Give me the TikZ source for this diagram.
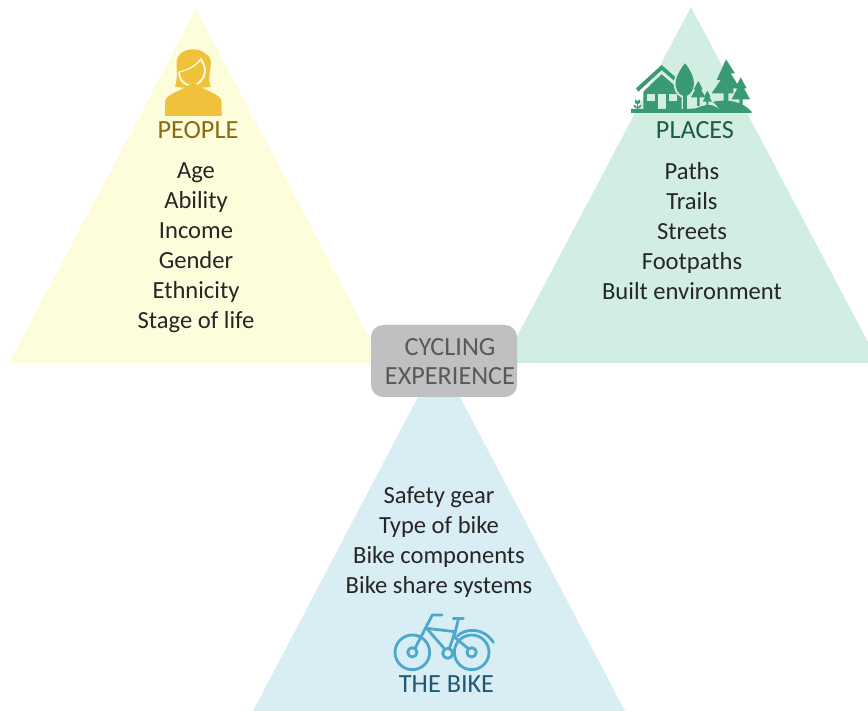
\documentclass[tikz,border=0pt]{standalone}
\usepackage{fontspec}
\setmainfont{Carlito}
\definecolor{peoplebg}{HTML}{FDFDDC}
\definecolor{placesbg}{HTML}{D2EEE3}
\definecolor{bikebg}{HTML}{D9EDF4}
\definecolor{peopleicon}{HTML}{F0C23B}
\definecolor{placesicon}{HTML}{3A9A74}
\definecolor{bikeicon}{HTML}{4BA9CC}
\definecolor{peopletext}{HTML}{8A6A12}
\definecolor{placestext}{HTML}{1F5A46}
\definecolor{biketext}{HTML}{1F5A75}
\definecolor{centerbg}{HTML}{C0C0C2}
\definecolor{centertext}{HTML}{58595B}
\tikzset{
  listtext/.style={align=center,text=black!85,font=\fontsize{24.6}{30}\selectfont},
  headtext/.style={font=\fontsize{26.2}{29}\selectfont},
  spoke/.style={draw=bikeicon,line width=2.8,line cap=round,line join=round}
}
\begin{document}
\begin{tikzpicture}[x=1pt,y=-1pt]
    \useasboundingbox (0,0) rectangle (868,711);

    % Three triangles
    \fill[peoplebg] (196,9) -- (383,363) -- (9,363) -- cycle;
    \fill[placesbg] (691,7) -- (868,342) -- (868,363) -- (503,363) -- cycle;
    \fill[bikebg] (439,357) -- (625,711) -- (253,711) -- cycle;

    % Person icon
    \begin{scope}[shift={(140,40)},scale=1/3]
        \fill[peopleicon] (160,28) .. controls (178,28) and (190,35) .. (197,42)
            .. controls (208,45) and (215,60) .. (212,80)
            .. controls (208,100) and (205,120) .. (212,140) .. controls (190,145) and (125,145) .. (105,140)
            .. controls (115,110) and (108,80) .. (110,65) .. controls (112,40) and (135,28) .. (160,28) -- cycle;
        \fill[peoplebg] (115,95) .. controls (135,90) and (165,80) .. (183,53)
            .. controls (195,70) and (200,85) .. (197,100) .. controls (192,125) and (170,140) .. (155,140)
            .. controls (135,140) and (112,120) .. (115,95) -- cycle;
        \fill[peopleicon] (120,97) .. controls (140,93) and (165,83) .. (182,62)
            .. controls (190,75) and (194,88) .. (191,100) .. controls (186,120) and (168,134) .. (155,134)
            .. controls (138,134) and (118,118) .. (120,97) -- cycle;
        \fill[peopleicon] (75,228) -- (75,185) .. controls (78,160) and (125,155) .. (160,125)
            .. controls (195,155) and (242,160) .. (245,185) -- (245,228) -- cycle;
    \end{scope}

    % Places icon
    \begin{scope}[shift={(620,20)},scale=1/3]
        \fill[placesicon] (48,205) -- (125,135) -- (167,172) -- (167,186) -- (125,150) -- (55,215) -- cycle;
        \fill[placesicon] (70,268) -- (70,215) -- (125,163) -- (185,215) -- (185,268) -- cycle;
        \fill[placesbg] (82,222) rectangle (105,242);
        \fill[placesbg] (148,222) rectangle (170,242);
        \fill[placesbg] (115,222) rectangle (138,268);
        % round tree
        \fill[placesbg] (195,124) .. controls (215,145) and (232,175) .. (226,200) .. controls (222,222) and (205,234) .. (195,234)
            .. controls (180,234) and (165,222) .. (162,200) .. controls (158,175) and (175,145) .. (195,124) -- cycle;
        \fill[placesicon] (195,130) .. controls (210,148) and (225,175) .. (221,198) .. controls (218,218) and (205,228) .. (195,228)
            .. controls (183,228) and (170,218) .. (167,198) .. controls (164,175) and (180,148) .. (195,130) -- cycle;
        \fill[placesicon] (190,180) rectangle (200,268);
        % pine trees
        \fill[placesicon] (318,118) -- (345,160) -- (332,160) -- (360,205) -- (340,205) -- (340,220) -- (325,220) -- (325,245) -- (311,245)
            -- (311,220) -- (275,220) -- (302,180) -- (290,180) -- cycle;
        \fill[placesicon] (362,172) -- (380,205) -- (372,205) -- (390,238) -- (368,238) -- (368,255) -- (358,255) -- (358,238) -- (335,238)
            -- (352,205) -- (345,205) -- cycle;
        \fill[placesicon] (235,183) -- (248,208) -- (243,208) -- (256,232) -- (239,232) -- (239,258) -- (231,258) -- (231,232) -- (213,232)
            -- (226,208) -- (221,208) -- cycle;
        \fill[placesicon] (262,212) -- (272,230) -- (268,230) -- (276,245) -- (265,245) -- (265,258) -- (259,258) -- (259,245) -- (248,245)
            -- (256,230) -- (252,230) -- cycle;
        % ground and hills
        \fill[placesicon] (33,267) -- (200,267) -- (228,265) .. controls (250,255) and (275,250) .. (290,262) -- (300,272)
            .. controls (295,262) and (285,250) .. (278,246) .. controls (320,235) and (370,245) .. (395,275) -- (395,279) -- (33,279) -- cycle;
        % flower
        \fill[placesicon] (45,238) -- (52,243) -- (60,238) -- (60,248) .. controls (60,253) and (45,253) .. (45,248) -- cycle;
        \draw[placesicon,line width=1] (52,250) -- (52,268);
        \fill[placesicon] (40,254) .. controls (45,254) and (50,258) .. (52,266) .. controls (45,266) and (40,260) .. (40,254) -- cycle;
        \fill[placesicon] (65,254) .. controls (60,254) and (54,258) .. (52,266) .. controls (59,266) and (65,260) .. (65,254) -- cycle;
    \end{scope}

    % Bike icon
    \begin{scope}[shift={(380,600)},scale=1/3]
        \draw[spoke] (97,157) circle (52);
        \draw[spoke] (97,157) circle (14);
        \draw[spoke] (275,157) circle (52);
        \draw[spoke] (275,157) circle (14);
        \draw[spoke] (203,160) circle (15);
        \draw[spoke] (105,145) -- (157,45) -- (186,45);
        \draw[spoke] (140,85) -- (225,95) -- (208,146);
        \draw[spoke] (140,85) -- (195,148);
        \draw[spoke] (220,55) -- (250,55);
        \draw[spoke] (236,55) -- (222,110) -- (266,147);
        \draw[spoke] (232,108) .. controls (255,85) and (310,80) .. (340,127);
    \end{scope}

    % Center box
    \fill[centerbg,rounded corners=12] (371,325) rectangle (517,397);

    % Text
    \node[listtext] (peoplelist) at (196,248) {Age\\Ability\\Income\\Gender\\Ethnicity\\Stage of life};
    \node[listtext] (placeslist) at (692,231) {Paths\\Trails\\Streets\\Footpaths\\Built environment};
    \node[listtext] (bikelist) at (439,542) {Safety gear\\Type of bike\\Bike components\\Bike share systems};
    \node[headtext,text=peopletext] (peoplehead) at (198,130) {PEOPLE};
    \node[headtext,text=placestext] (placeshead) at (695,130) {PLACES};
    \node[headtext,text=biketext] (bikehead) at (446.5,684) {THE BIKE};
    \node[headtext,align=center,text=centertext] (center) at (450,361.5) {CYCLING\\EXPERIENCE};
\end{tikzpicture}
\end{document}
